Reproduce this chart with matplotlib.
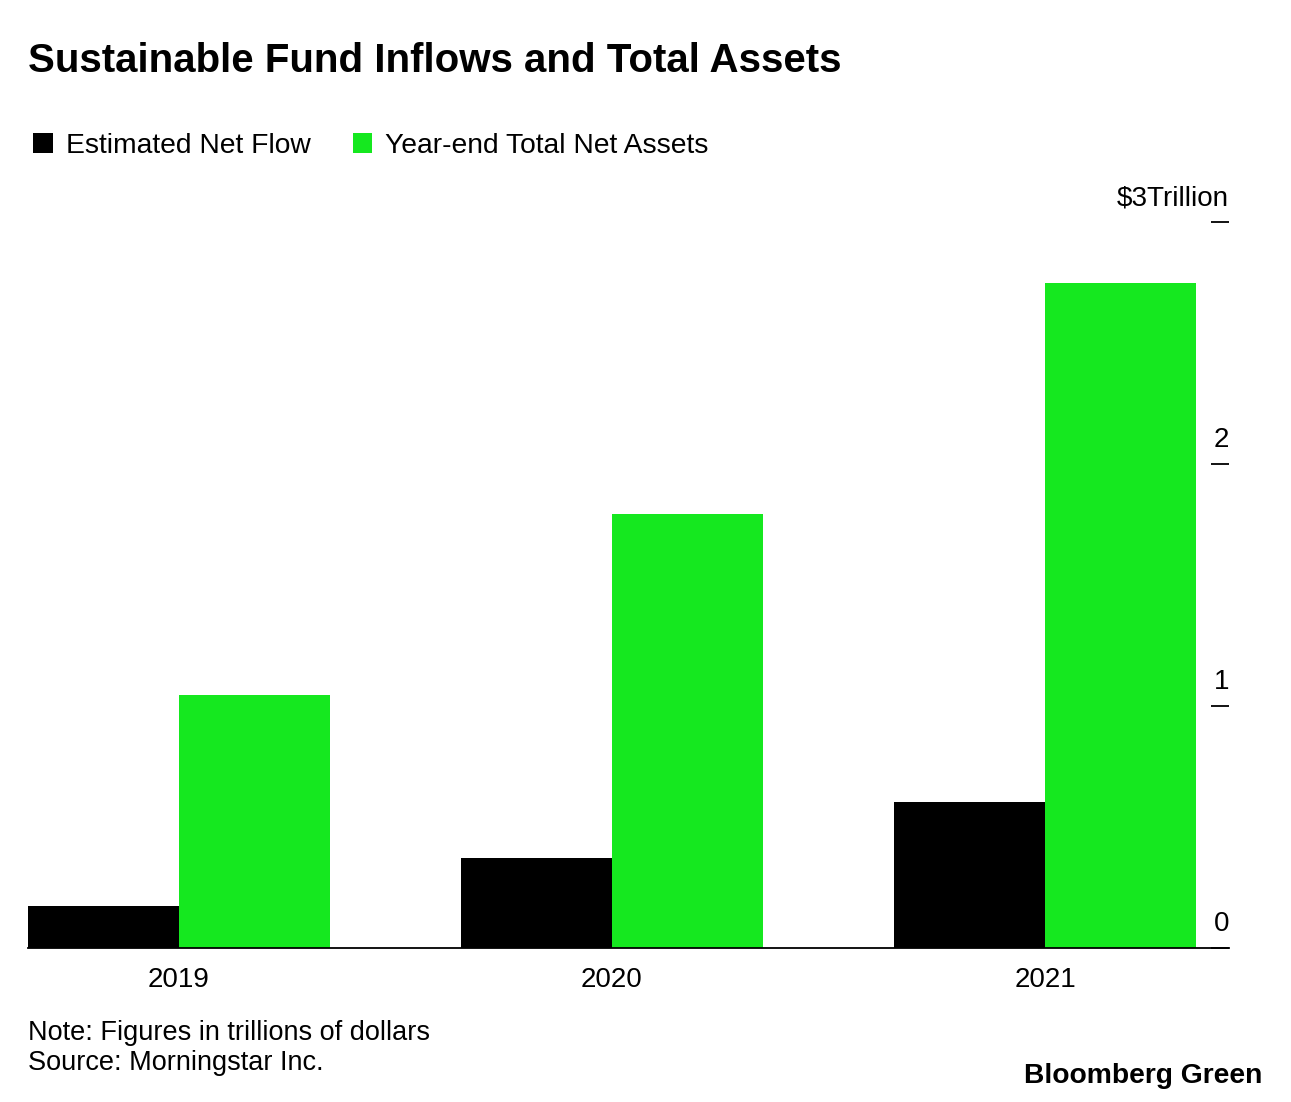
import matplotlib
matplotlib.use('Agg')

import numpy as np
import matplotlib.pyplot as plt
import matplotlib.transforms as mtransforms

plt.rcParams['font.family'] = ['Liberation Sans', 'DejaVu Sans']

years = ['2019', '2020', '2021']
net_flow = [0.174, 0.372, 0.603]
total_assets = [1.045, 1.793, 2.748]
y_ticks = [0, 1, 2, 3]
y_tick_labels = ['0', '1', '2', '$3Trillion']

W, H = 1291, 1102
fig = plt.figure(figsize=(W / 100, H / 100), dpi=100)
ax = fig.add_axes([28 / W, (H - 948) / H, (1229 - 28) / W, (948 - 222) / H])

x = np.arange(len(years))
bw = 151 / 433
ax.bar(x - bw / 2, net_flow, width=bw, color='#000000', label='Estimated Net Flow')
ax.bar(x + bw / 2, total_assets, width=bw, color='#15e81f', label='Year-end Total Net Assets')

ax.set_xlim(-bw, (1229 - 179) / 433)
ax.set_ylim(0, 3)

for s in ['top', 'left', 'right']:
    ax.spines[s].set_visible(False)
ax.spines['bottom'].set_linewidth(1.3)
ax.spines['bottom'].set_color('#000000')

ax.set_xticks(x)
ax.set_xticklabels(years, fontsize=20)
ax.tick_params(axis='x', length=0, pad=14)

ax.yaxis.tick_right()
ax.set_yticks(y_ticks)
ax.set_yticklabels([])
ax.tick_params(axis='y', direction='in', length=13, width=1.3, color='#000000')
trans = mtransforms.blended_transform_factory(ax.transAxes, ax.transData)
for v, lab in zip(y_ticks, y_tick_labels):
    ax.text(1.0, v + 0.045, lab, transform=trans, ha='right', va='bottom', fontsize=20)

fig.text(28 / W, 1 - 61 / H, 'Sustainable Fund Inflows and Total Assets',
         fontsize=29, fontweight='bold', va='center', ha='left')

leg = fig.legend(loc='center left', bbox_to_anchor=(22 / W, 1 - 146 / H), ncol=2,
                 frameon=False, fontsize=20.3, handlelength=0.7, handleheight=0.7,
                 handletextpad=0.45, columnspacing=1.5, borderaxespad=0)

fig.text(28 / W, 1 - 1033 / H, 'Note: Figures in trillions of dollars',
         fontsize=19.5, va='center', ha='left')
fig.text(28 / W, 1 - 1063 / H, 'Source: Morningstar Inc.',
         fontsize=19.5, va='center', ha='left')
fig.text(1262 / W, 1 - 1076 / H, 'Bloomberg Green',
         fontsize=20.3, fontweight='bold', va='center', ha='right')

fig.savefig('out.png', dpi=100)
